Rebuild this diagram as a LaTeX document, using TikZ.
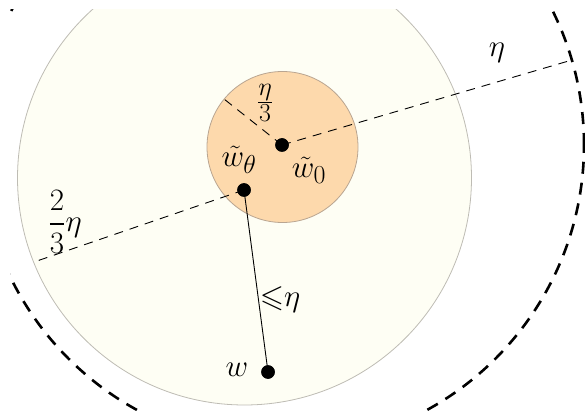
\documentclass[tikz,border=0pt]{standalone}
\usepackage{graphicx}
\usepackage{amsmath,amssymb}
\usetikzlibrary{calc}
\definecolor{ivory}{RGB}{254,254,244}
\definecolor{ivoryedge}{RGB}{190,188,180}
\definecolor{peach}{RGB}{253,217,172}
\definecolor{peachedge}{RGB}{185,165,145}
\newcommand{\enlargelbl}[1]{\scalebox{1.25}{#1}}
\tikzset{
  dotnode/.style={circle,fill=black,inner sep=0pt,minimum size=13.5pt},
  thindash/.style={line width=0.9pt,dash pattern=on 9pt off 7pt},
  bigdash/.style={line width=2.6pt,dash pattern=on 12pt off 9pt},
  lbl/.style={inner sep=0pt,font=\fontsize{24.88}{30}\selectfont}
}
\begin{document}
\begin{tikzpicture}[x=1pt,y=-1pt]
\useasboundingbox (0,0) rectangle (585,411);
\begin{scope}
\clip (10,10) rectangle (585,411);
\fill[ivory,draw=ivoryedge,line width=0.8pt] (244.5,178) circle[radius=227pt];
\fill[peach,draw=peachedge,line width=0.8pt] (282.5,147) circle[radius=75.5pt];
\draw[bigdash] (282,145) circle[radius=302pt];
\end{scope}
\coordinate (eA) at (572,60);
\coordinate (eB) at (224,99);
\coordinate (eC) at (34,262);
\node[dotnode] (w0) at (282,145) {};
\node[dotnode] (wt) at (244,190) {};
\node[dotnode] (w) at (268,372) {};
\draw[thindash] (w0.center) -- (eA);
\draw[thindash] (w0.center) -- (eB);
\draw[thindash] (wt.center) -- (eC);
\draw[line width=0.9pt] (wt.center) -- (w.center);
\node[dotnode] at (w0) {};
\node[dotnode] at (wt) {};
\node[dotnode] at (w) {};
\node[lbl] (l1) at (265,103) {\enlargelbl{$\frac{\eta}{3}$}};
\node[lbl] (l2) at (239,160) {\enlargelbl{$\tilde{w}_\theta$}};
\node[lbl] (l3) at (309,170) {\enlargelbl{$\tilde{w}_0$}};
\node[lbl] (l4) at (497,53) {\enlargelbl{$\eta$}};
\node[lbl] (l5) at (65,222) {\enlargelbl{$\dfrac{2}{3}\eta$}};
\node[lbl] (l6) at (280,300) {\enlargelbl{${\leqslant}\eta$}};
\node[lbl] (l7) at (237,370) {\enlargelbl{$w$}};
\end{tikzpicture}
\end{document}
